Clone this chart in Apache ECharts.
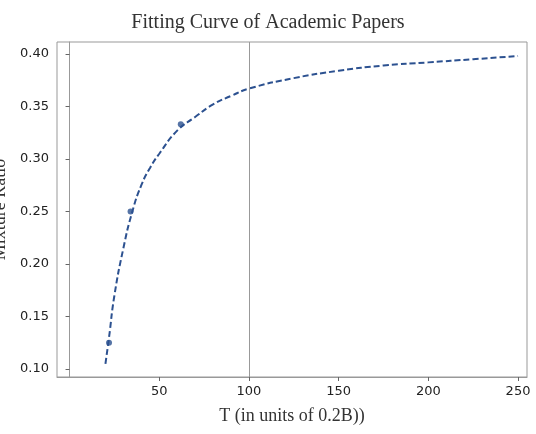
<!DOCTYPE html>
<html><head><meta charset="utf-8">
<script src="https://cdn.jsdelivr.net/npm/echarts@6/dist/echarts.min.js"></script>
<style>html,body{margin:0;padding:0;background:#fff}#c{width:536px;height:434px}</style>
</head><body><div id="c"></div>
<script>
const curveX = [20,22,25,30,35,40,45,50,60,70,80,90,100,125,150,175,200,225,250];
const curveY = [0.105,0.13,0.17,0.215,0.25,0.275,0.292,0.305,0.327,0.340,0.352,0.360,0.367,0.377,0.384,0.389,0.392,0.395,0.398];
const pointX = [22,34,62];
const pointY = [0.125,0.25,0.333];
const xTicks = [50,100,150,200,250];
const yTicks = [0.1,0.15,0.2,0.25,0.3,0.35,0.4];
const vLineX = 100;
const color = '#2c5190';
const chart = echarts.init(document.getElementById('c'));
chart.setOption({
  animation:false,
  title:{text:'Fitting Curve of Academic Papers',left:'center',top:8,textStyle:{fontFamily:'Liberation Serif',fontSize:20,fontWeight:'normal',color:'#333'}},
  grid:{left:57,right:9,top:42,bottom:57,show:true,borderColor:'#999',borderWidth:1,containLabel:false,outerBoundsMode:'none'},
  xAxis:{type:'value',min:-7,max:255,name:'T (in units of 0.2B))',nameLocation:'middle',nameGap:30,
    nameTextStyle:{fontFamily:'Liberation Serif',fontSize:18,color:'#333'},
    axisLabel:{fontFamily:'DejaVu Sans',fontSize:13,color:'#222',customValues:xTicks},
    axisTick:{show:true,length:4,customValues:xTicks,lineStyle:{color:'#666'}},axisLine:{lineStyle:{color:'#999'}},splitLine:{show:false}},
  yAxis:{type:'value',min:0.0924,max:0.4114,name:'Mixture Ratio',nameLocation:'middle',nameGap:45,
    nameTextStyle:{fontFamily:'Liberation Serif',fontSize:18,color:'#333'},
    axisLabel:{fontFamily:'DejaVu Sans',fontSize:13,color:'#222',customValues:yTicks,formatter:v=>v.toFixed(2)},
    axisTick:{show:true,length:4,customValues:yTicks,lineStyle:{color:'#666'}},
    axisLine:{lineStyle:{color:'#999'}},splitLine:{show:false}},
  series:[
    {type:'line',data:curveX.map((x,i)=>[x,curveY[i]]),smooth:true,showSymbol:false,lineStyle:{color,width:2,type:[6,3]},
     markLine:{silent:true,symbol:'none',label:{show:false},lineStyle:{color:'#999',width:1,type:'solid'},data:[{xAxis:vLineX}]}},
    {type:'scatter',data:pointX.map((x,i)=>[x,pointY[i]]),symbolSize:6,itemStyle:{color}}
  ]
});
</script></body></html>
